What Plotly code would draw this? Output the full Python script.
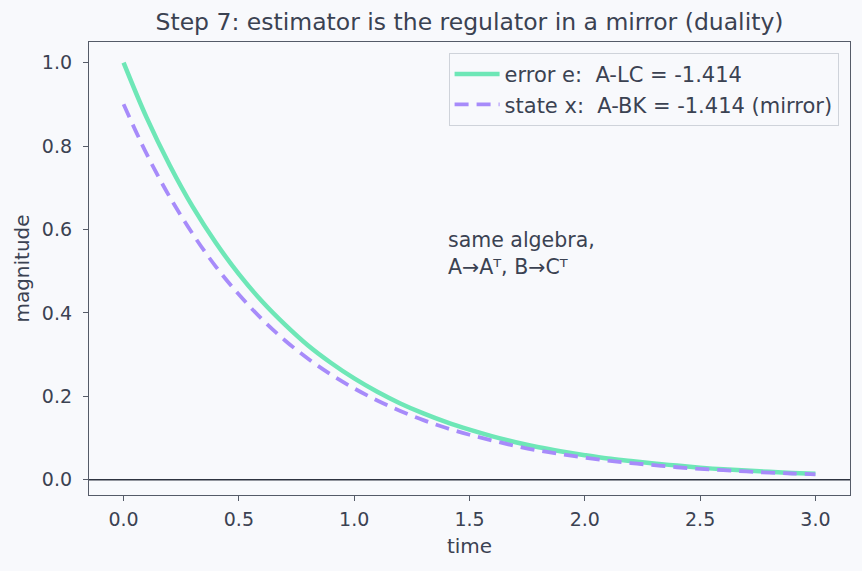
import plotly.graph_objects as go

t = [0.0, 0.1, 0.2, 0.3, 0.4, 0.5, 0.6, 0.7, 0.8, 0.9, 1.0, 1.1, 1.2, 1.3, 1.4, 1.5,
     1.6, 1.7, 1.8, 1.9, 2.0, 2.1, 2.2, 2.3, 2.4, 2.5, 2.6, 2.7, 2.8, 2.9, 3.0]
error_e = [1.000, 0.868, 0.754, 0.654, 0.568, 0.493, 0.428, 0.372, 0.322, 0.280, 0.243,
           0.211, 0.183, 0.159, 0.138, 0.120, 0.104, 0.090, 0.078, 0.068, 0.059,
           0.051, 0.045, 0.039, 0.034, 0.029, 0.025, 0.022, 0.019, 0.0165, 0.0144]
state_x = [0.900, 0.781, 0.678, 0.589, 0.511, 0.444, 0.385, 0.334, 0.290, 0.252, 0.219,
           0.190, 0.165, 0.143, 0.124, 0.108, 0.094, 0.081, 0.070, 0.061, 0.053,
           0.046, 0.040, 0.035, 0.030, 0.026, 0.023, 0.020, 0.017, 0.015, 0.013]
names = ["error e: \u00a0A-LC = -1.414", "state x: \u00a0A-BK = -1.414 (mirror)"]
title = "Step 7: estimator is the regulator in a mirror (duality)"
note = "same algebra,<br>A→Aᵀ, B→Cᵀ"

TXT = "#3b4252"
SPINE = "#555b68"
BG = "#f8f9fc"
FONT = "DejaVu Sans"

fig = go.Figure()
fig.add_trace(go.Scatter(x=t, y=error_e, mode="lines", name=names[0],
                         line=dict(color="#6ee7b7", width=4.5, shape="spline")))
fig.add_trace(go.Scatter(x=t, y=state_x, mode="lines", name=names[1],
                         line=dict(color="#a78bfa", width=3.8, dash="14px,8px", shape="spline")))

fig.add_shape(type="line", xref="paper", yref="y", x0=0, x1=1, y0=0, y1=0,
              line=dict(color="#2e3440", width=1.3), layer="below")

fig.add_annotation(x=1.4, y=0.476, xref="x", yref="y", text=note, showarrow=False,
                   xanchor="left", yanchor="bottom", align="left",
                   font=dict(family=FONT, size=20.5, color=TXT))

axis_common = dict(showline=True, linecolor=SPINE, linewidth=1.3, mirror=True,
                   ticks="outside", ticklen=5, tickcolor=SPINE, showgrid=False,
                   zeroline=False, tickfont=dict(family=FONT, size=19, color=TXT),
                   tickformat=".1f")

fig.update_layout(
    width=862, height=571,
    margin=dict(l=89, r=12, t=42, b=76),
    paper_bgcolor=BG, plot_bgcolor=BG,
    title=dict(text=title, x=0.5, xref="paper", xanchor="center", y=0.962, yanchor="middle",
               font=dict(family=FONT, size=23.5, color=TXT)),
    xaxis=dict(range=[-0.15, 3.15], tickvals=[0, 0.5, 1, 1.5, 2, 2.5, 3],
               ticklabelstandoff=2,
               title=dict(text="time", font=dict(family=FONT, size=20, color=TXT), standoff=10),
               **axis_common),
    yaxis=dict(range=[-0.0365, 1.0494], tickvals=[0, 0.2, 0.4, 0.6, 0.8, 1.0],
               ticklabelstandoff=7,
               title=dict(text="magnitude", font=dict(family=FONT, size=20, color=TXT), standoff=6),
               **axis_common),
    legend=dict(x=0.985, y=0.976, xanchor="right", yanchor="top",
                bgcolor="rgba(248,249,252,0.85)", bordercolor="#cfd3da", borderwidth=1,
                itemwidth=45,
                font=dict(family=FONT, size=21, color=TXT), tracegroupgap=0),
    showlegend=True,
)

fig.write_html("out.html")
